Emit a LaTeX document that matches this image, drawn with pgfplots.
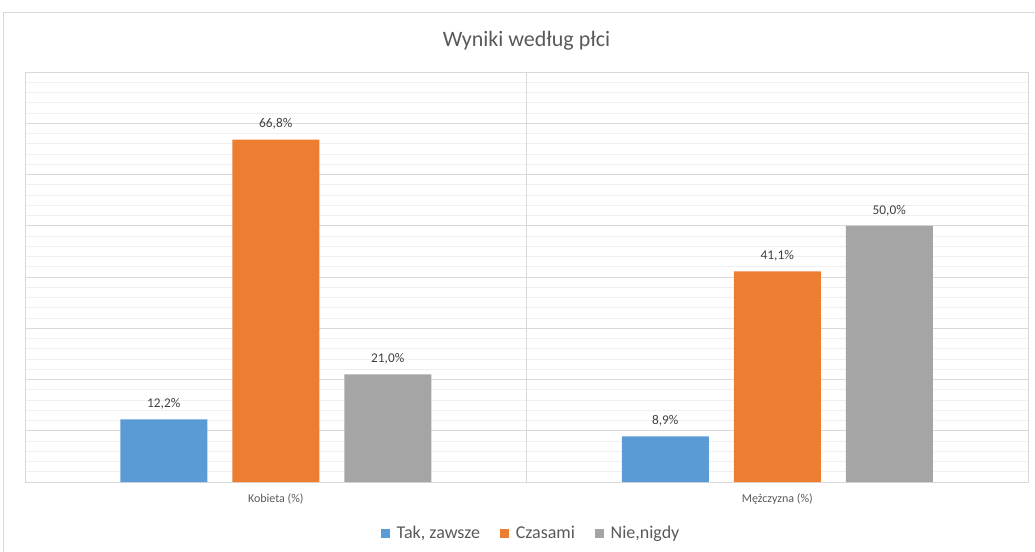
\documentclass[border=0pt]{standalone}
\usepackage{fontspec}
\setmainfont{Carlito}
\usepackage{pgfplots}
\pgfplotsset{compat=1.18}

\definecolor{sBlue}{HTML}{5B9BD5}
\definecolor{sOrange}{HTML}{ED7D31}
\definecolor{sGray}{HTML}{A5A5A5}
\definecolor{txt}{HTML}{595959}
\definecolor{lbl}{HTML}{404040}
\definecolor{gridMaj}{HTML}{D9D9D9}
\definecolor{gridMin}{HTML}{F0F0F0}

\begin{document}
\begin{tikzpicture}
% page = 1035 x 551 px, 1 px = 0.75pt, axis lower left at (25,482) px
\useasboundingbox (-18.75pt,-51.75pt) rectangle (757.5pt,361.5pt);
\draw[gridMaj, line width=0.75pt] (-15.75pt,-60pt) -- (-15.75pt,351.75pt) -- (770pt,351.75pt);
\begin{axis}[
  at={(0,0)}, anchor=south west,
  scale only axis,
  width=752.25pt, height=307.5pt,
  xmin=-0.5, xmax=1.5,
  ymin=0, ymax=80,
  enlargelimits=false,
  ybar=18.75pt,
  bar width=65.25pt,
  xtick={0,1},
  xticklabels={Kobieta (\%),Mężczyzna (\%)},
  extra x ticks={0.5},
  extra x tick labels={},
  extra x tick style={grid=major, major grid style={gridMaj, line width=0.75pt}},
  xticklabel style={font=\fontsize{9}{10}\selectfont, text=txt, yshift=-5pt},
  ytick={0,10,...,80},
  yticklabels={},
  minor y tick num=4,
  ymajorgrids, yminorgrids,
  major grid style={gridMaj, line width=0.75pt},
  minor grid style={gridMin, line width=0.75pt},
  major tick length=0pt, minor tick length=0pt,
  axis line style={gridMaj, line width=0.75pt},
  title={Wyniki według płci},
  title style={at={(0.5,1.056)}, anchor=center, font=\fontsize{16.5}{18}\selectfont, text=txt},
  nodes near coords={\pgfmathprintnumber[fixed,fixed zerofill,precision=1,use comma,assume math mode=true]{\pgfplotspointmeta}\%},
  every node near coord/.append style={font=\fontsize{10}{12}\selectfont, text=lbl, yshift=4pt},
  legend columns=3,
  legend style={at={(0.505,-0.126)}, anchor=center, draw=none, fill=none,
    font=\fontsize{13.5}{15}\selectfont, text=txt,
    /tikz/every odd column/.append style={column sep=3pt},
    /tikz/every even column/.append style={column sep=13pt}},
  legend image code/.code={\fill[#1] (0pt,-3.4pt) rectangle (6.8pt,3.4pt);},
]
\addplot[fill=sBlue, draw=none] coordinates {(0,12.2) (1,8.9)};
\addplot[fill=sOrange, draw=none] coordinates {(0,66.8) (1,41.1)};
\addplot[fill=sGray, draw=none] coordinates {(0,21.0) (1,50.0)};
\legend{Tak{,} zawsze, Czasami, {Nie,nigdy}}
\end{axis}
\end{tikzpicture}
\end{document}
